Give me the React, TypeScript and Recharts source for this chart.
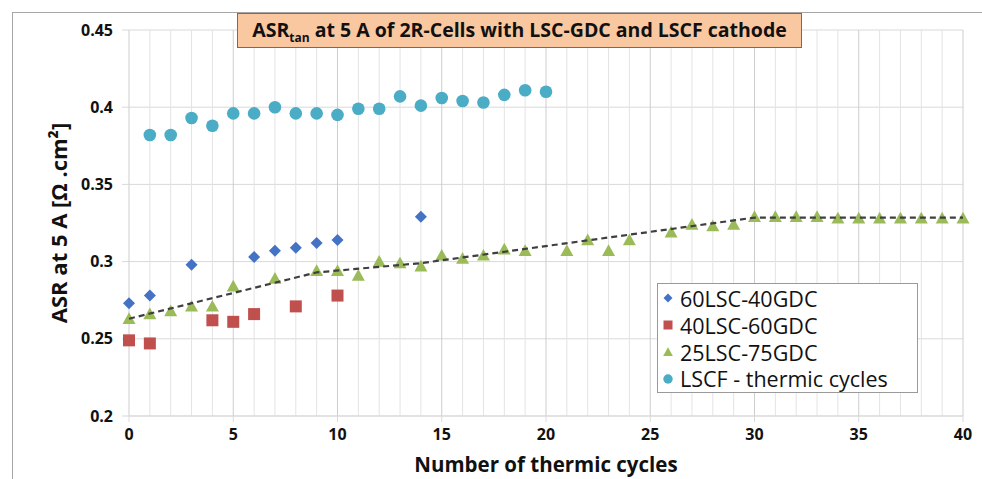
import React from 'react';
import {
    CartesianGrid,
    ReferenceLine,
    Scatter,
    ScatterChart,
    XAxis,
    YAxis,
} from 'recharts';

const cyclesA = [0, 1, 3, 6, 7, 8, 9, 10, 14];
const asrA = [0.273, 0.278, 0.298, 0.303, 0.307, 0.309, 0.312, 0.314, 0.329];

const cyclesB = [0, 1, 4, 5, 6, 8, 10];
const asrB = [0.249, 0.247, 0.262, 0.261, 0.266, 0.271, 0.278];

const cyclesC = [
    0, 1, 2, 3, 4, 5, 7, 9, 10, 11, 12, 13, 14, 15, 16, 17, 18, 19, 21, 22, 23,
    24, 26, 27, 28, 29, 30, 31, 32, 33, 34, 35, 36, 37, 38, 39, 40,
];
const asrC = [
    0.263, 0.266, 0.268, 0.271, 0.271, 0.284, 0.289, 0.294, 0.294, 0.291, 0.3,
    0.299, 0.297, 0.304, 0.302, 0.304, 0.308, 0.307, 0.307, 0.314, 0.307, 0.314,
    0.319, 0.324, 0.323, 0.324, 0.329, 0.329, 0.329, 0.329, 0.328, 0.328, 0.328,
    0.328, 0.328, 0.328, 0.328,
];

const cyclesD = [
    1, 2, 3, 4, 5, 6, 7, 8, 9, 10, 11, 12, 13, 14, 15, 16, 17, 18, 19, 20,
];
const asrD = [
    0.382, 0.382, 0.393, 0.388, 0.396, 0.396, 0.4, 0.396, 0.396, 0.395, 0.399,
    0.399, 0.407, 0.401, 0.406, 0.404, 0.403, 0.408, 0.411, 0.41,
];

// dashed trend of the 25LSC-75GDC cells
const trendX = [0, 9, 14, 30, 40];
const trendY = [0.263, 0.293, 0.299, 0.3285, 0.3285];

const xTicks = [0, 5, 10, 15, 20, 25, 30, 35, 40];
const yTicks = [0.2, 0.25, 0.3, 0.35, 0.4, 0.45];
const minorX = Array.from({ length: 41 }, (_, i) => i).filter(
    (v) => v % 5 !== 0,
);

const SERIES = [
    { name: '60LSC-40GDC', color: '#4472C4', shape: 'diamond' },
    { name: '40LSC-60GDC', color: '#C0504D', shape: 'square' },
    { name: '25LSC-75GDC', color: '#9BBB59', shape: 'triangle' },
    { name: 'LSCF - thermic cycles', color: '#4BACC6', shape: 'circle' },
];

const zip = (xs: number[], ys: number[]) =>
    xs.map((x, i) => ({ x, y: ys[i] }));

const FONT = '"Open Sans", Lato, sans-serif';

function Marker({ cx, cy, kind, color, s = 1 }: any) {
    if (cx == null || cy == null) return null;
    if (kind === 'diamond') {
        const r = 6 * s;
        return (
            <polygon
                points={`${cx},${cy - r} ${cx + r},${cy} ${cx},${cy + r} ${cx - r},${cy}`}
                fill={color}
            />
        );
    }
    if (kind === 'square') {
        const h = 6 * s;
        return (
            <rect x={cx - h} y={cy - h} width={2 * h} height={2 * h} fill={color} />
        );
    }
    if (kind === 'triangle') {
        const h = 6.5 * s;
        return (
            <polygon
                points={`${cx},${cy - h} ${cx + h},${cy + h * 0.8} ${cx - h},${cy + h * 0.8}`}
                fill={color}
            />
        );
    }
    return <circle cx={cx} cy={cy} r={6.3 * s} fill={color} />;
}

function LegendBox() {
    return (
        <div
            style={{
                position: 'absolute',
                left: 657,
                top: 283,
                width: 261,
                height: 110,
                border: '1px solid #9a9a9a',
                background: '#fff',
                fontFamily: FONT,
                fontSize: 21.5,
                color: '#111',
                boxSizing: 'border-box',
                padding: '1px 0 0 3px',
            }}
        >
            {SERIES.map((s) => (
                <div
                    key={s.name}
                    style={{ display: 'flex', alignItems: 'center', height: 26.8 }}
                >
                    <svg width={14} height={14} style={{ marginRight: 5 }}>
                        <Marker cx={7} cy={7} kind={s.shape} color={s.color} s={0.75} />
                    </svg>
                    <span>{s.name}</span>
                </div>
            ))}
        </div>
    );
}

export default function App() {
    return (
        <div
            style={{
                position: 'absolute',
                left: 0,
                top: 0,
                width: 982,
                height: 479,
                background: '#fff',
                overflow: 'hidden',
            }}
        >
            <div
                style={{
                    position: 'absolute',
                    left: 12,
                    top: 12,
                    width: 990,
                    height: 490,
                    borderTop: '1.5px solid #a6a6a6',
                    borderLeft: '1.5px solid #a6a6a6',
                }}
            />
            <ScatterChart
                width={982}
                height={479}
                margin={{ top: 30, right: 19, bottom: 0, left: 0 }}
                style={{ position: 'absolute', left: 0, top: 0 }}
            >
                <CartesianGrid stroke="#d9d9d9" vertical={false} />
                {minorX.map((v) => (
                    <ReferenceLine key={v} x={v} stroke="#e3e3e3" strokeWidth={1} />
                ))}
                {xTicks.map((v) => (
                    <ReferenceLine key={`M${v}`} x={v} stroke="#cdcdcd" strokeWidth={1} />
                ))}
                <XAxis
                    type="number"
                    dataKey="x"
                    domain={[0, 40]}
                    ticks={xTicks}
                    height={63}
                    tickSize={6}
                    tickMargin={7}
                    axisLine={{ stroke: '#d9d9d9' }}
                    tickLine={{ stroke: '#d9d9d9' }}
                    tick={{ fill: '#111', fontSize: 16, fontWeight: 700, fontFamily: FONT }}
                    label={{
                        value: 'Number of thermic cycles',
                        position: 'insideBottom',
                        offset: 7,
                        fill: '#111',
                        fontSize: 20.5,
                        fontWeight: 700,
                        fontFamily: FONT,
                    }}
                />
                <YAxis
                    type="number"
                    dataKey="y"
                    domain={[0.2, 0.45]}
                    ticks={yTicks}
                    width={129}
                    tickSize={7}
                    tickMargin={9}
                    axisLine={false}
                    tickLine={{ stroke: '#d9d9d9' }}
                    tickFormatter={(v: number) => String(Number(v.toFixed(2)))}
                    tick={{ fill: '#111', fontSize: 16, fontWeight: 700, fontFamily: FONT }}
                    label={{
                        value: 'ASR at 5 A [Ω .cm²]',
                        angle: -90,
                        position: 'center',
                        dx: -5,
                        fill: '#111',
                        fontSize: 22,
                        fontWeight: 700,
                        fontFamily: FONT,
                    }}
                />
                <Scatter
                    name={SERIES[0].name}
                    data={zip(cyclesA, asrA)}
                    fill={SERIES[0].color}
                    isAnimationActive={false}
                    shape={(p: any) => <Marker {...p} kind="diamond" color={SERIES[0].color} />}
                />
                <Scatter
                    name={SERIES[1].name}
                    data={zip(cyclesB, asrB)}
                    fill={SERIES[1].color}
                    isAnimationActive={false}
                    shape={(p: any) => <Marker {...p} kind="square" color={SERIES[1].color} />}
                />
                <Scatter
                    name={SERIES[2].name}
                    data={zip(cyclesC, asrC)}
                    fill={SERIES[2].color}
                    isAnimationActive={false}
                    shape={(p: any) => <Marker {...p} kind="triangle" color={SERIES[2].color} />}
                />
                <Scatter
                    name={SERIES[3].name}
                    data={zip(cyclesD, asrD)}
                    fill={SERIES[3].color}
                    isAnimationActive={false}
                    shape={(p: any) => <Marker {...p} kind="circle" color={SERIES[3].color} />}
                />
                <Scatter
                    name="trend"
                    data={zip(trendX, trendY)}
                    isAnimationActive={false}
                    legendType="none"
                    line={{ stroke: '#3f3f3f', strokeWidth: 2.2, strokeDasharray: '6 4' }}
                    shape={() => <g />}
                />
            </ScatterChart>
            <LegendBox />
            <div
                style={{
                    position: 'absolute',
                    left: 237,
                    top: 13,
                    width: 565,
                    height: 35,
                    boxSizing: 'border-box',
                    background: '#FAC8A0',
                    border: '1.5px solid #7a6a5e',
                    fontFamily: FONT,
                    fontSize: 19.5,
                    fontWeight: 700,
                    color: '#111',
                    display: 'flex',
                    alignItems: 'center',
                    justifyContent: 'center',
                    whiteSpace: 'nowrap',
                }}
            >
                <span>
                    ASR<sub style={{ fontSize: 12 }}>tan</sub> at 5 A of 2R-Cells with
                    LSC-GDC and LSCF cathode
                </span>
            </div>
        </div>
    );
}
